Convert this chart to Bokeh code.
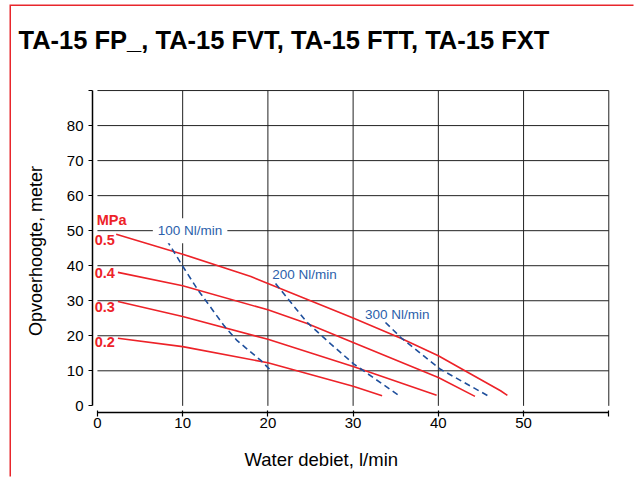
from bokeh.plotting import figure
from bokeh.models import Range1d, Label, FixedTicker, Title
from bokeh.embed import file_html
from bokeh.resources import INLINE

# ---- data ----
title_text = "TA-15 FP_, TA-15 FVT, TA-15 FTT, TA-15 FXT"
x_label = "Water debiet, l/min"
y_label = "Opvoerhoogte, meter"
x_ticks = [0, 10, 20, 30, 40, 50, 60]
y_ticks = [0, 10, 20, 30, 40, 50, 60, 70, 80, 90]

pressure_labels = ["0.5", "0.4", "0.3", "0.2"]
p05_x = [2.2, 10, 18, 30, 35.6, 40, 43.8, 47.3, 48.1]
p05_y = [49.0, 43.3, 36.9, 25.1, 19.3, 14.3, 9.1, 4.3, 3.0]
p04_x = [2.4, 10, 20, 24.6, 30, 40, 44.3]
p04_y = [38.1, 34.3, 27.4, 23.5, 18.1, 8.1, 2.7]
p03_x = [2.4, 10, 20, 30, 39.8]
p03_y = [29.8, 25.5, 19.0, 11.2, 3.0]
p02_x = [2.4, 10, 20, 30, 33.4]
p02_y = [19.3, 16.9, 12.3, 5.6, 2.9]

air_labels = ["100 Nl/min", "200 Nl/min", "300 Nl/min"]
a100_x = [8.13, 9.97, 11.73, 14.85, 16.4, 19.2, 20.5]
a100_y = [47.3, 40.0, 33.3, 22.9, 18.6, 12.9, 9.7]
a200_x = [20.9, 24.6, 27.4, 30.1, 35.4]
a200_y = [34.9, 23.8, 17.6, 11.9, 2.9]
a300_x = [33.8, 35.6, 40.2, 45.8]
a300_y = [23.8, 19.5, 10.5, 2.9]

RED = "#ed2228"
BLUE_LINE = "#1f4f9c"
BLUE_TEXT = "#2c5fab"
FONT = "Liberation Sans"

p = figure(width=624, height=472,
           x_range=Range1d(-0.58, 60.2), y_range=Range1d(-1.9, 90.3),
           output_backend="svg", toolbar_location=None,
           min_border_left=81, min_border_right=25,
           min_border_top=83, min_border_bottom=66)
p.styles = {"margin-left": "11px", "margin-top": "6px",
            "box-shadow": "-1.5px -1.5px 0px 0px #e8262c"}
p.title.text = ""
p.outline_line_color = None
p.xgrid.visible = False
p.ygrid.visible = False
p.background_fill_color = "white"
p.border_fill_color = "white"

# axes
for ax in (p.xaxis[0], p.yaxis[0]):
    ax.minor_tick_line_color = None
    ax.axis_line_color = "black"
    ax.axis_line_width = 1.5
    ax.major_tick_line_color = "black"
    ax.major_tick_line_width = 1.2
    ax.major_label_text_font = FONT
    ax.major_label_text_font_size = "15px"
    ax.major_label_text_color = "black"

p.xaxis.ticker = FixedTicker(ticks=x_ticks)
p.xaxis.bounds = (x_ticks[0], x_ticks[-1])
p.xaxis.major_tick_in = 2
p.xaxis.major_tick_out = 4
p.xaxis.major_label_standoff = 1
p.xaxis.major_label_overrides = {x_ticks[-1]: ""}

p.yaxis.ticker = FixedTicker(ticks=y_ticks)
p.yaxis.bounds = (y_ticks[0], y_ticks[-1])
p.yaxis.major_tick_in = 0
p.yaxis.major_tick_out = 4
p.yaxis.major_label_standoff = 5
p.yaxis.major_label_overrides = {y_ticks[-1]: ""}
p.yaxis.axis_label = y_label
p.yaxis.axis_label_text_font = FONT
p.yaxis.axis_label_text_font_size = "18px"
p.yaxis.axis_label_text_font_style = "normal"
p.yaxis.axis_label_text_color = "black"
p.yaxis.axis_label_standoff = 18

# grid lines (from tick lists)
xg = x_ticks[1:]
yg = y_ticks[1:]
p.segment(x0=xg, y0=[y_ticks[0]] * len(xg), x1=xg, y1=[y_ticks[-1]] * len(xg),
          line_color="#222222", line_width=1)
p.segment(x0=[x_ticks[0]] * len(yg), y0=yg, x1=[x_ticks[-1]] * len(yg), y1=yg,
          line_color="#222222", line_width=1)

# pressure curves
for xs, ys in [(p05_x, p05_y), (p04_x, p04_y), (p03_x, p03_y), (p02_x, p02_y)]:
    p.line(xs, ys, line_color=RED, line_width=1.6, line_join="round")

# air consumption curves
for xs, ys in [(a100_x, a100_y), (a200_x, a200_y), (a300_x, a300_y)]:
    p.line(xs, ys, line_color=BLUE_LINE, line_width=1.6, line_dash="6 4")

# pressure labels
p.add_layout(Label(x=-0.08, y=53.0, text="MPa", text_font=FONT, text_font_size="14.5px",
                   text_font_style="bold", text_color=RED, text_baseline="alphabetic"))
for txt, ly in zip(pressure_labels, [47.3, 37.8, 28.3, 18.2]):
    p.add_layout(Label(x=-0.32, y=ly, text=txt, text_font=FONT, text_font_size="14.5px",
                       text_font_style="bold", text_color=RED, text_baseline="alphabetic"))

# air labels
air_pos = [(6.5, 50.0), (20.5, 37.6), (31.4, 26.2)]
for i, (txt, (lx, ly)) in enumerate(zip(air_labels, air_pos)):
    kw = {}
    if i == 0:
        kw = dict(background_fill_color="white", padding=5)
    p.add_layout(Label(x=lx, y=ly, text=txt, text_font=FONT, text_font_size="13.5px",
                       text_color=BLUE_TEXT, text_baseline="alphabetic", **kw))

# title (spacer keeps it away from the frame)
p.add_layout(Title(text=" ", text_font_size="10px", standoff=23, text_color="white"), "above")
p.add_layout(Title(text=title_text, align="left", offset=-74, standoff=0,
                   vertical_align="bottom", text_font=FONT, text_font_size="25.5px",
                   text_font_style="bold", text_color="black"), "above")

# x axis label placed as a title below the axis
p.add_layout(Title(text=" ", text_font_size="8px", standoff=7, text_color="white"), "below")
p.add_layout(Title(text=x_label, align="left", offset=152, standoff=0,
                   vertical_align="top", text_font=FONT, text_font_size="18.5px",
                   text_font_style="normal", text_color="black"), "below")

open("out.html", "w").write(file_html(p, INLINE))
